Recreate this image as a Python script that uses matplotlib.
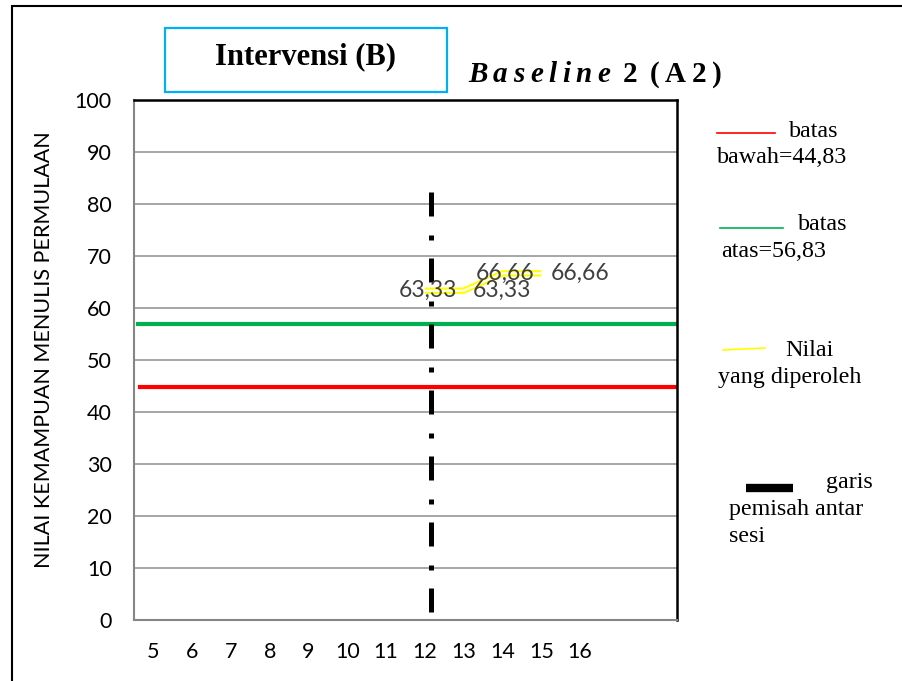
import matplotlib.pyplot as plt
from matplotlib.lines import Line2D
from matplotlib.patches import Rectangle

# sesi pengamatan (two empty slots at the end of the category axis)
sesi = ['5', '6', '7', '8', '9', '10', '11', '12', '13', '14', '15', '16', '', '']
nilai_sesi = ['12', '13', '14', '15']
nilai = [63.33, 63.33, 66.66, 66.66]
nilai_label = ['63,33', '63,33', '66,66', '66,66']
label_posisi = ['center', 'right', 'center', 'right']
batas_bawah = 44.83
batas_atas = 56.83
pemisah_sesi = '12'
pemisah_geser = 0.15
pemisah_y = [82.3, 1.5]
y_ticks = list(range(0, 101, 10))

W, H = 903, 681
fig = plt.figure(figsize=(W / 100, H / 100), dpi=100)


def fx(px):
    return px / W


def fy(py):
    return 1 - py / H


ax = fig.add_axes([fx(134), fy(620), (677 - 134) / W, (620 - 100) / H])

xpos = {s: i for i, s in enumerate(sesi) if s}
x_nilai = [xpos[s] for s in nilai_sesi]

# grid + axes styling
ax.set_xlim(-0.5, len(sesi) - 0.5)
ax.set_ylim(0, 100)
ax.set_yticks(y_ticks)
ax.set_xticks(range(len(sesi)))
ax.set_xticklabels(sesi)
ax.yaxis.grid(True, color='#a6a6a6', lw=1.4)
ax.set_axisbelow(True)
ax.tick_params(length=0, labelsize=15.5, labelcolor='black')
ax.tick_params(axis='y', pad=16)
ax.tick_params(axis='x', pad=16)
for lab in ax.get_xticklabels() + ax.get_yticklabels():
    lab.set_fontfamily('Lato')
for s in ['left', 'bottom']:
    ax.spines[s].set_color('#868686')
    ax.spines[s].set_linewidth(1.5)
for s in ['top', 'right']:
    ax.spines[s].set_color('black')
    ax.spines[s].set_linewidth(1.8)

# batas atas / bawah
ax.axhline(batas_bawah, xmin=0.011, xmax=0.996, color='#ff0000', lw=3)
ax.axhline(batas_atas, xmin=0.008, xmax=1.0, color='#00b050', lw=3)

# garis pemisah antar sesi
xp = xpos[pemisah_sesi] + pemisah_geser
ax.plot([xp, xp], pemisah_y, color='black', lw=3.6,
        dashes=(4.8, 3.8, 1.0, 3.6), solid_capstyle='butt', dash_capstyle='butt')

# nilai yang diperoleh: hollow yellow line
ax.plot(x_nilai, nilai, color='#ffff00', lw=4.6, solid_capstyle='butt', zorder=4)
ax.plot(x_nilai, nilai, color='white', lw=1.6, solid_capstyle='butt', zorder=5)

for xv, yv, txt, p in zip(x_nilai, nilai, nilai_label, label_posisi):
    if p == 'right':
        ax.annotate(txt, (xv, yv), xytext=(6.5, 0), textcoords='offset points',
                    ha='left', va='center', fontsize=16.5, color='#404040',
                    fontfamily='Lato', zorder=6)
    else:
        ax.annotate(txt, (xv, yv), xytext=(2, 0), textcoords='offset points',
                    ha='center', va='center', fontsize=16.5, color='#404040',
                    fontfamily='Lato', zorder=6)

# y label
fig.text(fx(44), fy(349.5), 'NILAI KEMAMPUAN MENULIS PERMULAAN', rotation=90,
         ha='center', va='center', fontsize=15.5, fontfamily='Lato')

# outer frame
fig.add_artist(Rectangle((fx(12), -0.2), 2, fy(6) + 0.2, fill=False,
                         ec='black', lw=1.5, transform=fig.transFigure))

# phase boxes
fig.add_artist(Rectangle((fx(165), fy(92)), (447 - 165) / W, (92 - 28) / H,
                         fill=False, ec='#00b0f0', lw=1.6, transform=fig.transFigure))
fig.text(fx(306), fy(57), 'Intervensi (B)', ha='center', va='center',
         fontsize=22, fontweight='bold', fontfamily='Liberation Serif')

renderer = fig.canvas.get_renderer()
cx = 468
track = 5.5
for ch, st in [(c, 'italic') for c in 'Baseline'] + [(c, 'normal') for c in ' 2 (A2)']:
    if ch == ' ':
        cx += 7
        continue
    t = fig.text(fx(cx), fy(82), ch, ha='left', va='baseline', fontsize=21,
                 fontweight='bold', fontstyle=st, fontfamily='Liberation Serif')
    cx += t.get_window_extent(renderer).width + track

# legend
serif = dict(fontfamily='Liberation Serif', fontsize=17.3, va='baseline', ha='left')
fig.add_artist(Line2D([fx(717), fx(775)], [fy(133), fy(133)], color='#ff0000', lw=1.2))
fig.text(fx(789), fy(137), 'batas', **serif)
fig.text(fx(717), fy(163), 'bawah=44,83', **serif)

fig.add_artist(Line2D([fx(720), fx(783)], [fy(228), fy(228)], color='#00b050', lw=1.2))
fig.text(fx(798), fy(230), 'batas', **serif)
fig.text(fx(721), fy(257), 'atas=56,83', **serif)

fig.add_artist(Line2D([fx(723), fx(765)], [fy(350), fy(348)], color='#ffff00', lw=1.2))
fig.text(fx(785), fy(356), 'Nilai', **serif)
fig.text(fx(718), fy(383), 'yang diperoleh', **serif)

fig.add_artist(Line2D([fx(746), fx(793)], [fy(487.5), fy(487.5)], color='black',
                      lw=6, solid_capstyle='butt'))
fig.text(fx(826), fy(488), 'garis', **serif)
fig.text(fx(729), fy(515), 'pemisah antar', **serif)
fig.text(fx(729), fy(542), 'sesi', **serif)

fig.savefig('out.png', dpi=100)
